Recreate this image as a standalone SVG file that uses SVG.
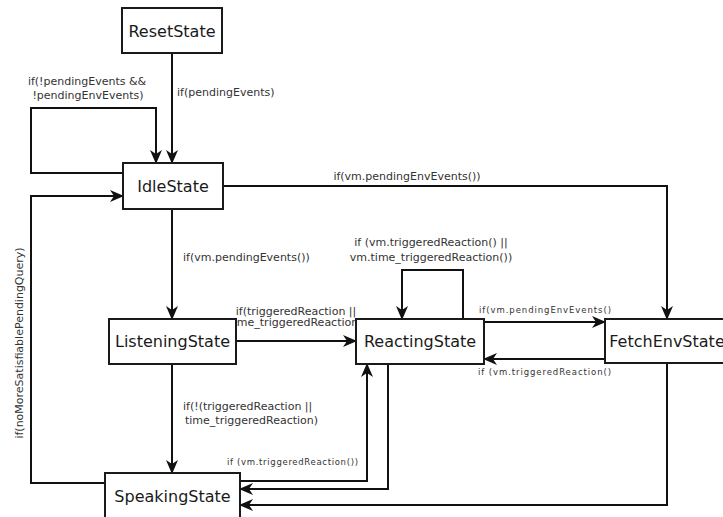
<svg xmlns="http://www.w3.org/2000/svg" width="723" height="517" viewBox="0 0 723 517">
<style>
.node rect{fill:#fff;stroke:#1a1a1a;stroke-width:2}
.node text{font-family:"DejaVu Sans",sans-serif;font-size:16px;fill:#1a1a1a;text-anchor:middle}
.edge{fill:none;stroke:#111;stroke-width:2}
.lbl{font-family:"DejaVu Sans",sans-serif;font-size:11px;fill:#333}
.sm{font-family:"DejaVu Sans",sans-serif;font-size:8.5px;fill:#333}
</style>
<defs>
<marker id="arr" viewBox="0 0 14 12" refX="13" refY="6" markerWidth="14" markerHeight="12" markerUnits="userSpaceOnUse" orient="auto">
<path d="M0,0 L14,6 L0,12 L4,6 Z" fill="#111"/>
</marker>
</defs>
<rect width="723" height="517" fill="#fff"/>
<g id="connectors">
<path class="edge" d="M172,53 V163" marker-end="url(#arr)"/>
<path class="edge" d="M123,173 H31 V108 H156 V163" marker-end="url(#arr)"/>
<path class="edge" d="M172,209 V319" marker-end="url(#arr)"/>
<path class="edge" d="M223,186 H667 V319" marker-end="url(#arr)"/>
<path class="edge" d="M105,483 H31 V196 H123" marker-end="url(#arr)"/>
<path class="edge" d="M236,341 H356" marker-end="url(#arr)"/>
<path class="edge" d="M172,364 V473" marker-end="url(#arr)"/>
<path class="edge" d="M463,319 V270 H402 V319" marker-end="url(#arr)"/>
<path class="edge" d="M484,322 H605" marker-end="url(#arr)"/>
<path class="edge" d="M605,359 H484" marker-end="url(#arr)"/>
<path class="edge" d="M240,481 H367 V364" marker-end="url(#arr)"/>
<path class="edge" d="M388,364 V489 H240" marker-end="url(#arr)"/>
<path class="edge" d="M667,363 V505 H240" marker-end="url(#arr)"/>
<text class="lbl" x="177" y="96">if(pendingEvents)</text>
<text class="lbl" x="87" y="85" text-anchor="middle">if(!pendingEvents &amp;&amp;</text>
<text class="lbl" x="88" y="99" text-anchor="middle">!pendingEnvEvents)</text>
<text class="lbl" x="183" y="261">if(vm.pendingEvents())</text>
<text class="lbl" x="407" y="180" text-anchor="middle">if(vm.pendingEnvEvents())</text>
<text class="lbl" x="431" y="246" text-anchor="middle">if (vm.triggeredReaction() ||</text>
<text class="lbl" x="431" y="261" text-anchor="middle">vm.time_triggeredReaction())</text>
<text class="sm" x="479" y="313" textLength="132" lengthAdjust="spacing">if(vm.pendingEnvEvents()</text>
<text class="sm" x="478" y="375" textLength="133" lengthAdjust="spacing">if (vm.triggeredReaction()</text>
<text class="lbl" x="296" y="315" text-anchor="middle" font-size="10.3">if(triggeredReaction ||</text>
<text class="lbl" x="296" y="326" text-anchor="middle" font-size="10.3">time_triggeredReaction)</text>
<text class="lbl" x="183" y="410">if(!(triggeredReaction ||</text>
<text class="lbl" x="185" y="424">time_triggeredReaction)</text>
<text class="sm" x="227" y="465" textLength="131" lengthAdjust="spacing">if (vm.triggeredReaction())</text>
<text class="lbl" x="23" y="343" text-anchor="middle" transform="rotate(-90 23 343)">if(noMoreSatisfiablePendingQuery)</text>
</g>
<g id="ResetState" class="node"><rect x="122" y="8" width="100" height="45"/><text x="172" y="37">ResetState</text></g>
<g id="IdleState" class="node"><rect x="123" y="163" width="100" height="46"/><text x="173" y="192">IdleState</text></g>
<g id="ListeningState" class="node"><rect x="109" y="319" width="127" height="45"/><text x="172.5" y="347">ListeningState</text></g>
<g id="ReactingState" class="node"><rect x="356" y="319" width="128" height="45"/><text x="420" y="347">ReactingState</text></g>
<g id="FetchEnvState" class="node"><rect x="605" y="319" width="124" height="44"/><text x="667" y="347">FetchEnvState</text></g>
<g id="SpeakingState" class="node"><rect x="105" y="473" width="135" height="46"/><text x="172.5" y="502">SpeakingState</text></g>
</svg>
